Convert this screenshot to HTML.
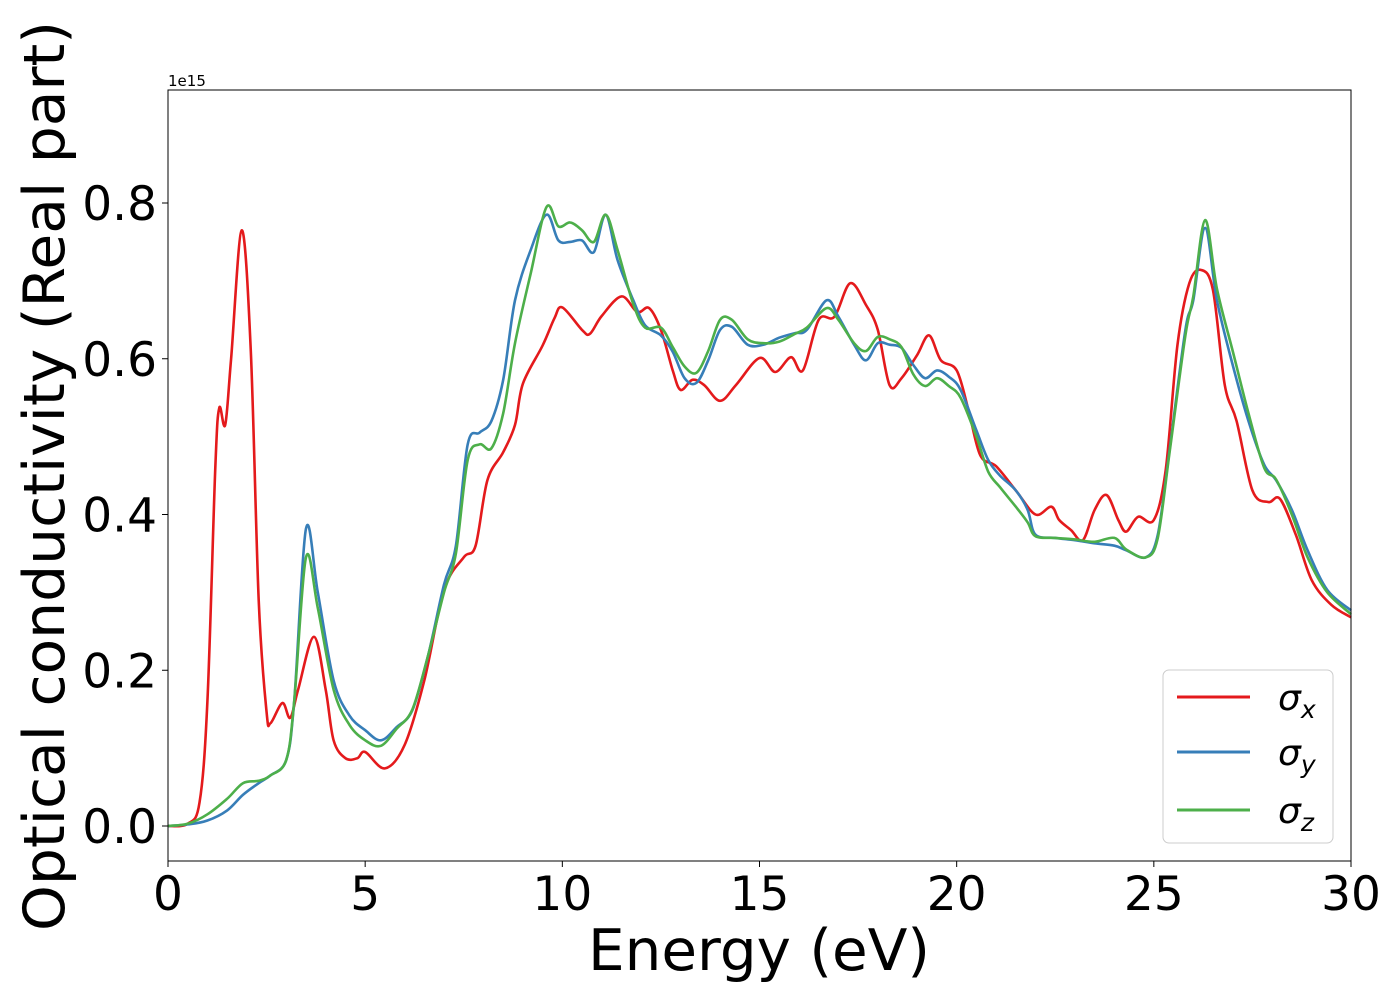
<!DOCTYPE html>
<html><head><meta charset="utf-8"><style>
body{margin:0;background:#fff}
svg text{font-family:"DejaVu Sans","Liberation Sans",sans-serif}
</style></head><body>
<svg id="chart" width="1400" height="1000" xmlns="http://www.w3.org/2000/svg">
<rect width="1400" height="1000" fill="#fff"/>
<g id="plot"></g>
<rect x="168" y="90" width="1183" height="771" fill="none" stroke="#000" stroke-width="1"/>
<g id="xt"></g><g id="yt"></g>
<text x="168" y="86" font-size="15">1e15</text>
<text x="759" y="970" font-size="57" text-anchor="middle" textLength="342" lengthAdjust="spacingAndGlyphs">Energy (eV)</text>
<text transform="translate(64,476) rotate(-90)" font-size="57" text-anchor="middle" textLength="910" lengthAdjust="spacingAndGlyphs">Optical conductivity (Real part)</text>
<g>
<rect x="1163" y="670" width="170" height="173" rx="6" fill="#fff" stroke="#ccc"/>
<line x1="1177" y1="697" x2="1250" y2="697" stroke="#e41a1c" stroke-width="3"/>
<line x1="1177" y1="752" x2="1250" y2="752" stroke="#377eb8" stroke-width="3"/>
<line x1="1177" y1="810" x2="1250" y2="810" stroke="#4daf4a" stroke-width="3"/>
<text x="1278" y="710" font-size="36" font-style="italic">σ<tspan font-size="25" dy="8">x</tspan></text>
<text x="1278" y="765" font-size="36" font-style="italic">σ<tspan font-size="25" dy="8">y</tspan></text>
<text x="1278" y="823" font-size="36" font-style="italic">σ<tspan font-size="25" dy="8">z</tspan></text>
</g>
</svg>
<script>
const xTicks=[0,5,10,15,20,25,30];
const yTicks=[0.0,0.2,0.4,0.6,0.8];
const xE=[0,0.5,0.8,1.0,1.2,1.3,1.45,1.6,1.87,2.1,2.3,2.5,2.6,2.9,3.1,3.3,3.7,4.0,4.2,4.5,4.8,5.0,5.5,6.0,6.5,7.0,7.5,7.8,8.1,8.5,8.8,9.0,9.5,9.8,10.0,10.5,10.7,11.0,11.5,11.9,12.2,12.5,12.8,13.0,13.3,13.6,14.0,14.4,15.0,15.4,15.8,16.1,16.5,16.9,17.3,17.7,18.0,18.3,18.6,19.0,19.3,19.6,20.0,20.3,20.6,21.0,21.5,22.0,22.4,22.6,22.9,23.2,23.5,23.8,24.1,24.3,24.6,25.0,25.3,25.6,25.9,26.2,26.5,26.8,27.1,27.5,27.9,28.2,28.6,29.0,29.5,30.0];
const xV=[0,0.003,0.03,0.16,0.46,0.537,0.515,0.60,0.765,0.61,0.29,0.146,0.132,0.158,0.139,0.175,0.243,0.175,0.11,0.087,0.087,0.095,0.074,0.104,0.187,0.303,0.345,0.36,0.444,0.48,0.515,0.568,0.617,0.652,0.666,0.637,0.632,0.655,0.68,0.66,0.665,0.637,0.585,0.56,0.573,0.566,0.546,0.566,0.601,0.583,0.602,0.585,0.65,0.654,0.697,0.669,0.637,0.566,0.575,0.605,0.63,0.598,0.585,0.534,0.476,0.462,0.431,0.40,0.41,0.393,0.38,0.367,0.406,0.425,0.393,0.378,0.397,0.393,0.457,0.618,0.697,0.714,0.688,0.566,0.52,0.431,0.416,0.42,0.374,0.316,0.284,0.268];
const yzE=[0,0.5,1.0,1.5,1.9,2.3,2.6,3.0,3.2,3.5,3.8,4.2,4.6,5.0,5.4,5.8,6.2,6.6,7.0,7.3,7.6,7.9,8.2,8.5,8.8,9.2,9.6,9.9,10.2,10.5,10.8,11.1,11.4,11.8,12.1,12.5,12.8,13.1,13.4,13.7,14.0,14.3,14.7,15.1,15.5,15.9,16.2,16.7,17.0,17.4,17.7,18.0,18.3,18.6,18.9,19.2,19.5,19.8,20.1,20.5,20.8,21.1,21.5,21.8,22.0,22.5,23.0,23.5,24.0,24.3,24.8,25.1,25.4,25.8,26.0,26.3,26.6,27.0,27.4,27.8,28.1,28.5,28.9,29.4,30.0];
const yV=[0,0.002,0.007,0.02,0.04,0.055,0.065,0.085,0.16,0.382,0.30,0.187,0.142,0.123,0.11,0.127,0.149,0.22,0.31,0.36,0.49,0.505,0.52,0.573,0.675,0.74,0.785,0.752,0.75,0.752,0.737,0.785,0.727,0.675,0.643,0.63,0.609,0.575,0.569,0.598,0.637,0.641,0.618,0.618,0.627,0.633,0.637,0.675,0.654,0.618,0.598,0.62,0.618,0.614,0.592,0.575,0.585,0.577,0.56,0.508,0.47,0.45,0.431,0.406,0.374,0.37,0.367,0.363,0.36,0.354,0.345,0.374,0.483,0.637,0.675,0.768,0.675,0.592,0.52,0.464,0.444,0.406,0.354,0.303,0.277];
const zV=[0,0.003,0.015,0.035,0.055,0.058,0.065,0.085,0.16,0.345,0.28,0.175,0.13,0.11,0.103,0.125,0.15,0.22,0.30,0.35,0.47,0.49,0.485,0.53,0.62,0.71,0.795,0.77,0.775,0.765,0.75,0.785,0.74,0.67,0.64,0.64,0.615,0.59,0.582,0.61,0.65,0.65,0.625,0.62,0.622,0.632,0.64,0.665,0.65,0.62,0.61,0.628,0.625,0.615,0.58,0.565,0.575,0.565,0.55,0.5,0.455,0.435,0.41,0.39,0.372,0.37,0.368,0.365,0.37,0.355,0.345,0.37,0.48,0.63,0.68,0.778,0.69,0.61,0.53,0.46,0.445,0.4,0.345,0.3,0.272];
const X0=168,X1=1351,XMIN=0,XMAX=30,Y0=826,YPER=778.75;
function sx(v){return X0+(v-XMIN)/(XMAX-XMIN)*(X1-X0);}
function sy(v){return Y0-v*YPER;}
const NS='http://www.w3.org/2000/svg';
function pathFor(xs,vs){
  const p=xs.map((x,i)=>[sx(x),sy(vs[i])]);
  let d='M'+p[0][0].toFixed(1)+','+p[0][1].toFixed(1);
  for(let i=0;i<p.length-1;i++){
    const a=p[Math.max(0,i-1)],b=p[i],c=p[i+1],e=p[Math.min(p.length-1,i+2)];
    const c1=[b[0]+(c[0]-a[0])/6,b[1]+(c[1]-a[1])/6],c2=[c[0]-(e[0]-b[0])/6,c[1]-(e[1]-b[1])/6];
    d+='C'+c1[0].toFixed(1)+','+c1[1].toFixed(1)+' '+c2[0].toFixed(1)+','+c2[1].toFixed(1)+' '+c[0].toFixed(1)+','+c[1].toFixed(1);
  }
  return d;
}
const plot=document.getElementById('plot');
[[xE,xV,'#e41a1c','series-sigma-x'],[yzE,yV,'#377eb8','series-sigma-y'],[yzE,zV,'#4daf4a','series-sigma-z']].forEach(s=>{
  const el=document.createElementNS(NS,'path');
  el.setAttribute('d',pathFor(s[0],s[1]));
  el.setAttribute('fill','none');el.setAttribute('stroke',s[2]);el.setAttribute('stroke-width','2.6');
  
  
  plot.appendChild(el);
});
const xt=document.getElementById('xt');
xTicks.forEach(t=>{
  const l=document.createElementNS(NS,'line');
  l.setAttribute('x1',sx(t));l.setAttribute('x2',sx(t));l.setAttribute('y1',861);l.setAttribute('y2',867);l.setAttribute('stroke','#000');
  
  
  xt.appendChild(l);
  const tx=document.createElementNS(NS,'text');
  tx.setAttribute('x',sx(t));tx.setAttribute('y',910);tx.setAttribute('font-size','47');tx.setAttribute('text-anchor','middle');
  tx.textContent=t;
  
  
  xt.appendChild(tx);
});
const yt=document.getElementById('yt');
yTicks.forEach(t=>{
  const l=document.createElementNS(NS,'line');
  l.setAttribute('x1',162);l.setAttribute('x2',168);l.setAttribute('y1',sy(t));l.setAttribute('y2',sy(t));l.setAttribute('stroke','#000');
  
  
  yt.appendChild(l);
  const tx=document.createElementNS(NS,'text');
  tx.setAttribute('x',157);tx.setAttribute('y',sy(t)+17);tx.setAttribute('font-size','47');tx.setAttribute('text-anchor','end');
  tx.textContent=t.toFixed(1);
  
  
  yt.appendChild(tx);
});
</script>
</body></html>
